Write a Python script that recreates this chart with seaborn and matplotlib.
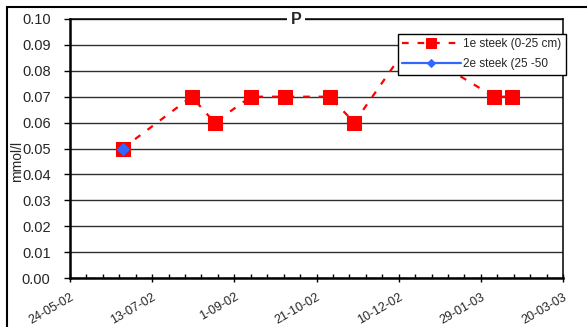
import matplotlib
matplotlib.use("Agg")
import matplotlib.pyplot as plt
import matplotlib.dates as mdates
from matplotlib.patches import Rectangle
from matplotlib.ticker import FixedLocator
from matplotlib.transforms import ScaledTranslation
import numpy as np
import pandas as pd
import seaborn as sns

# Phosphate (P) in soil water, two sampling depths
dates_1e = ["2002-06-25", "2002-08-06", "2002-08-20", "2002-09-11", "2002-10-02",
            "2002-10-29", "2002-11-13", "2002-12-16", "2003-02-06", "2003-02-17"]
p_1e = [0.05, 0.07, 0.06, 0.07, 0.07, 0.07, 0.06, 0.09, 0.07, 0.07]

dates_2e = ["2002-06-25"]
p_2e = [0.05]

label_1e = "1e steek (0-25 cm)"
label_2e = "2e steek (25 -50"

x_ticks = ["2002-05-24", "2002-07-13", "2002-09-01", "2002-10-21",
           "2002-12-10", "2003-01-29", "2003-03-20"]
x_tick_labels = ["24-05-02", "13-07-02", "1-09-02", "21-10-02",
                 "10-12-02", "29-01-03", "20-03-03"]
y_ticks = [0.00, 0.01, 0.02, 0.03, 0.04, 0.05, 0.06, 0.07, 0.08, 0.09, 0.10]

df1 = pd.DataFrame({"datum": pd.to_datetime(dates_1e), "P": p_1e})
df2 = pd.DataFrame({"datum": pd.to_datetime(dates_2e), "P": p_2e})

sns.set_theme(style="white")
plt.rcParams["font.family"] = ["Liberation Sans", "DejaVu Sans"]

W, H = 587, 327
fig = plt.figure(figsize=(W / 100, H / 100), dpi=100)
ax = fig.add_axes([70 / W, 1 - 278 / H, 493 / W, 259 / H])

# outer chart frame
fig.patches.append(Rectangle((7 / W, -0.2), 2.0, 1 - 7 / H + 0.2,
                             transform=fig.transFigure, fill=False,
                             edgecolor="black", linewidth=1.5, zorder=0))

sns.lineplot(data=df1, x="datum", y="P", ax=ax, color="#ff0000",
             linestyle=(0, (3, 4)), linewidth=1.6, marker="s", markersize=9.5,
             markeredgecolor="#ff0000", label=label_1e, zorder=3)
sns.lineplot(data=df2, x="datum", y="P", ax=ax, color="#3366ff",
             linestyle="-", linewidth=1.6, marker="D", markersize=6,
             markeredgecolor="#3366ff", label=label_2e, zorder=4)

xt = pd.to_datetime(x_ticks)
ax.set_xlim(mdates.date2num(xt[0]), mdates.date2num(xt[-1]))
ax.set_ylim(y_ticks[0], y_ticks[-1])

ax.xaxis.set_major_locator(FixedLocator(mdates.date2num(xt)))
ax.set_xticklabels(x_tick_labels, rotation=30, ha="right", va="top",
                   rotation_mode="anchor", fontsize=9)
shift = ScaledTranslation(-6 / 100, 0, fig.dpi_scale_trans)
for lab in ax.get_xticklabels():
    lab.set_transform(lab.get_transform() + shift)
minor = np.arange(mdates.date2num(xt[0]), mdates.date2num(xt[-1]) + 0.5, 10)
ax.xaxis.set_minor_locator(FixedLocator(minor))

ax.set_yticks(y_ticks)
ax.set_yticklabels([f"{v:.2f}" for v in y_ticks], fontsize=10.5)

ax.tick_params(axis="x", which="major", direction="inout", length=6, width=1,
               color="black", pad=6.5, bottom=True)
ax.tick_params(axis="x", which="minor", direction="in", length=3, width=1,
               color="black", bottom=True)
ax.tick_params(axis="y", which="major", direction="out", length=4, width=1,
               color="black", pad=10, left=True)

ax.grid(axis="y", color="#303030", linewidth=1.0)
ax.grid(axis="x", visible=False)

for side in ["left", "bottom"]:
    ax.spines[side].set_linewidth(1.8)
    ax.spines[side].set_color("black")
for side in ["top", "right"]:
    ax.spines[side].set_linewidth(1.1)
    ax.spines[side].set_color("black")

ax.set_xlabel("")
ax.set_ylabel("mmol/l", fontsize=10)
ax.yaxis.set_label_coords(-0.094, 0.45)

ax.text(0.458, 1.0, "P", transform=ax.transAxes, ha="center", va="center",
        fontsize=11.5, fontweight="bold",
        bbox=dict(facecolor="white", edgecolor="none", pad=2.5), zorder=10)

leg = ax.legend(loc="upper left", bbox_to_anchor=(0.665, 0.944),
                fontsize=8.5, frameon=True, fancybox=False, shadow=False,
                framealpha=1.0, facecolor="white",
                handlelength=5.0, handletextpad=0.2, labelspacing=0.75,
                borderpad=0.35, borderaxespad=0, numpoints=1)
leg.get_frame().set_edgecolor("black")
leg.get_frame().set_linewidth(1.0)
leg.set_zorder(20)
leg_lines = leg.get_lines()
leg_lines[0].set_markersize(6.5)
leg_lines[1].set_markersize(4)

fig.savefig("out.png", dpi=100)
